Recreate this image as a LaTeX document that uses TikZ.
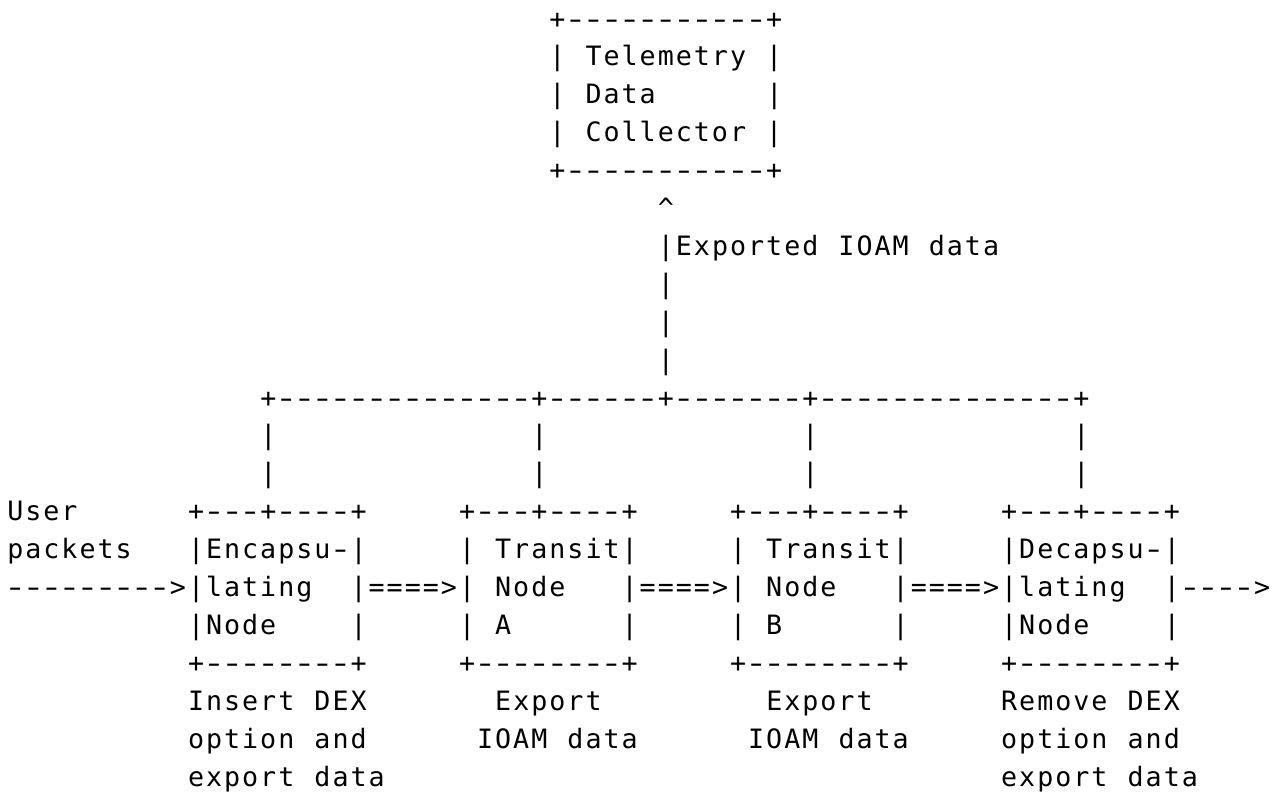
\documentclass[tikz,border=0pt]{standalone}
\usepackage{fontspec}
\setmonofont{DejaVu Sans Mono}
\usepackage{graphicx}
\usepackage{tikz}

% one fixed-width cell per character, hyphens drawn a bit longer
\newlength\asciicw
\setlength\asciicw{13.55pt}
\ExplSyntaxOn
\NewDocumentCommand\asciistr{m}{
  \str_map_inline:nn{#1}{
    \str_if_eq:nnTF{##1}{-}
      {\makebox[\asciicw][c]{\scalebox{1.45}[1]{-}}}
      {\makebox[\asciicw][c]{##1}}
  }
}
\ExplSyntaxOff

\tikzset{
  ascii/.style={anchor=base west, inner sep=0pt, outer sep=0pt,
    font=\ttfamily\fontsize{20}{20}\selectfont},
  cell/.style 2 args={at={({6.3+18.07*#1},{28+37.9*#2})}},
}
% \putascii{column}{row}{name}{text}
\newcommand\putascii[4]{\node[ascii, cell={#1}{#2}] (#3) {\asciistr{#4}};}

\begin{document}
\begin{tikzpicture}[x=0.75pt, y=-0.75pt]
  \useasboundingbox (0,0) rectangle (1282,793);

  % -- collector --
  \putascii{30}{0}{tdc-top}{+-----------+}
  \putascii{30}{1}{tdc-l1}{| Telemetry |}
  \putascii{30}{2}{tdc-l2}{| Data}
  \putascii{42}{2}{tdc-l2r}{|}
  \putascii{30}{3}{tdc-l3}{| Collector |}
  \putascii{30}{4}{tdc-bot}{+-----------+}

  % -- export path up to the collector --
  \putascii{36}{5}{exp-tip}{^}
  \putascii{36}{6}{exp-lbl}{|Exported IOAM data}
  \foreach \r in {7,8,9}{
    \putascii{36}{\r}{exp-\r}{|}
  }

  % -- fan-out to the four nodes --
  \putascii{14}{10}{bus}{+--------------+------+-------+--------------+}
  \foreach \c in {14,29,44,59}{
    \foreach \r in {11,12}{
      \putascii{\c}{\r}{drop-\c-\r}{|}
    }
  }

  % -- ingress --
  \putascii{0}{13}{in-l1}{User}
  \putascii{0}{14}{in-l2}{packets}
  \putascii{0}{15}{in-arrow}{--------->}

  % -- box tops and bottoms --
  \foreach \c/\n in {10/encap,25/transa,40/transb,55/decap}{
    \putascii{\c}{13}{\n-top}{+---+----+}
    \putascii{\c}{17}{\n-bot}{+--------+}
  }

  % -- box contents and links --
  \putascii{10}{14}{encap-l1}{|Encapsu-|}
  \putascii{25}{14}{transa-l1}{| Transit|}
  \putascii{40}{14}{transb-l1}{| Transit|}
  \putascii{55}{14}{decap-l1}{|Decapsu-|}

  \putascii{10}{15}{encap-l2}{|lating}
  \putascii{19}{15}{link-ab}{|====>| Node}
  \putascii{34}{15}{link-bc}{|====>| Node}
  \putascii{49}{15}{link-cd}{|====>|lating}
  \putascii{64}{15}{out-arrow}{|---->}

  \putascii{10}{16}{encap-l3}{|Node}
  \putascii{19}{16}{encap-l3r}{|}
  \putascii{25}{16}{transa-l3}{| A}
  \putascii{34}{16}{transa-l3r}{|}
  \putascii{40}{16}{transb-l3}{| B}
  \putascii{49}{16}{transb-l3r}{|}
  \putascii{55}{16}{decap-l3}{|Node}
  \putascii{64}{16}{decap-l3r}{|}

  % -- notes under the nodes --
  \putascii{10}{18}{encap-n1}{Insert DEX}
  \putascii{10}{19}{encap-n2}{option and}
  \putascii{10}{20}{encap-n3}{export data}
  \putascii{27}{18}{transa-n1}{Export}
  \putascii{26}{19}{transa-n2}{IOAM data}
  \putascii{42}{18}{transb-n1}{Export}
  \putascii{41}{19}{transb-n2}{IOAM data}
  \putascii{55}{18}{decap-n1}{Remove DEX}
  \putascii{55}{19}{decap-n2}{option and}
  \putascii{55}{20}{decap-n3}{export data}
\end{tikzpicture}
\end{document}
